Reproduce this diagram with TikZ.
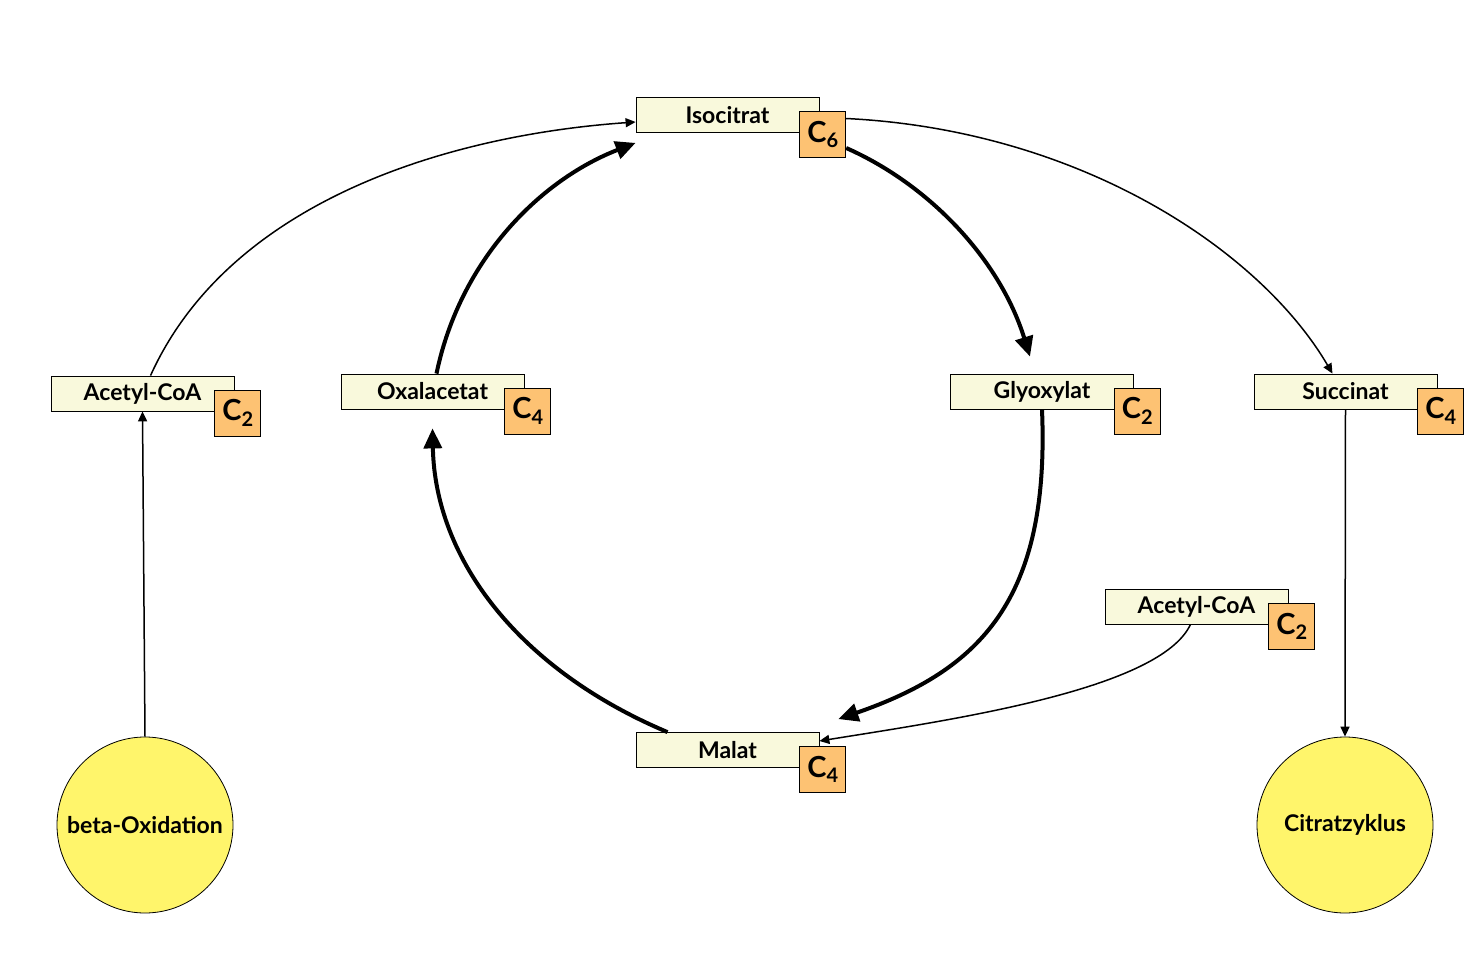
\documentclass[tikz,border=0pt]{standalone}
\usepackage{fontspec}
\setmainfont{Lato}
\usepackage{tikz}
\usetikzlibrary{arrows.meta,positioning}

\definecolor{boxfill}{HTML}{F9F9DC}
\definecolor{cfill}{HTML}{FDC273}
\definecolor{ballfill}{HTML}{FFF56B}

\newcommand{\kohlenstoff}[1]{C\raisebox{-0.35ex}{\fontsize{10}{10}\selectfont #1}}

\tikzset{
  stoff/.style={draw, fill=boxfill, minimum width=91.5pt, minimum height=17.5pt, inner sep=0pt,
    font=\fontsize{11.5}{12}\selectfont\bfseries},
  catom/.style={draw, fill=cfill, minimum size=23pt, inner sep=0pt, anchor=north west,
    font=\fontsize{14.5}{14.5}\selectfont\bfseries},
  zyklus/.style={draw, circle, fill=ballfill, minimum size=88pt, inner sep=0pt,
    font=\fontsize{11.5}{12}\selectfont\bfseries},
  duenn/.style={line width=0.75pt, -{Triangle[length=5pt,width=4.5pt]}},
  dick/.style={line width=2pt, -{Triangle[length=10pt,width=9pt]}},
}

\begin{document}
\begin{tikzpicture}[x=0.5pt, y=-0.5pt]
        \useasboundingbox (0,0) rectangle (1480,953);

        % Stoffe
        \node[stoff] (isocitrat) at (727.5,115) {Isocitrat};
        \node[catom] (isocitratC) at ([xshift=-10pt,yshift=-7pt]isocitrat.north east) {\kohlenstoff{6}};
        \node[stoff] (acetylL) at (142.5,393.5) {Acetyl-CoA};
        \node[catom] (acetylLC) at ([xshift=-10pt,yshift=-7pt]acetylL.north east) {\kohlenstoff{2}};
        \node[stoff] (oxalacetat) at (432.5,391.5) {Oxalacetat};
        \node[catom] (oxalacetatC) at ([xshift=-10pt,yshift=-7pt]oxalacetat.north east) {\kohlenstoff{4}};
        \node[stoff] (glyoxylat) at (1042,391.5) {Glyoxylat};
        \node[catom] (glyoxylatC) at ([xshift=-10pt,yshift=-7pt]glyoxylat.north east) {\kohlenstoff{2}};
        \node[stoff] (succinat) at (1345.5,391.5) {Succinat};
        \node[catom] (succinatC) at ([xshift=-10pt,yshift=-7pt]succinat.north east) {\kohlenstoff{4}};
        \node[stoff] (acetylR) at (1196.5,606.5) {Acetyl-CoA};
        \node[catom] (acetylRC) at ([xshift=-10pt,yshift=-7pt]acetylR.north east) {\kohlenstoff{2}};
        \node[stoff] (malat) at (727.5,750) {Malat};
        \node[catom] (malatC) at ([xshift=-10pt,yshift=-7pt]malat.north east) {\kohlenstoff{4}};

        % Kreise
        \node[zyklus] (beta) at (145,825) {beta-Oxidation};
        \node[zyklus] (citrat) at (1345,825) {Citratzyklus};

        % duenne Pfeile
        \draw[duenn] ([xshift=4pt]acetylL.north) .. controls (230,200) and (450,135) .. ([yshift=-3.5pt]isocitrat.west);
        \draw[duenn] ([yshift=8pt]isocitratC.east) .. controls (1080,130) and (1260,250) .. ([xshift=-6.5pt]succinat.north);
        \draw[duenn] ([xshift=-3pt]acetylR.south) .. controls (1160,690) and (950,720) .. ([yshift=4.5pt]malat.east);
        \draw[duenn] (beta.north) -- (acetylL.south);
        \draw[duenn] (succinat.south) -- (citrat.north);

        % Glyoxylatzyklus
        \draw[dick] ([xshift=2pt]oxalacetat.north) .. controls (460,260) and (540,180) .. ([yshift=-5pt]isocitrat.south west);
        \draw[dick] ([yshift=-6.75pt]isocitratC.east) .. controls (930,185) and (1000,260) .. ([xshift=-6pt,yshift=8.5pt]glyoxylat.north);
        \draw[dick] (glyoxylat.south) .. controls (1050,600) and (980,670) .. ([xshift=9.5pt,yshift=6.5pt]malat.north east);
        \draw[dick] ([xshift=-30pt]malat.north) .. controls (520,670) and (435,560) .. ([yshift=-9.5pt]oxalacetat.south);
\end{tikzpicture}
\end{document}
